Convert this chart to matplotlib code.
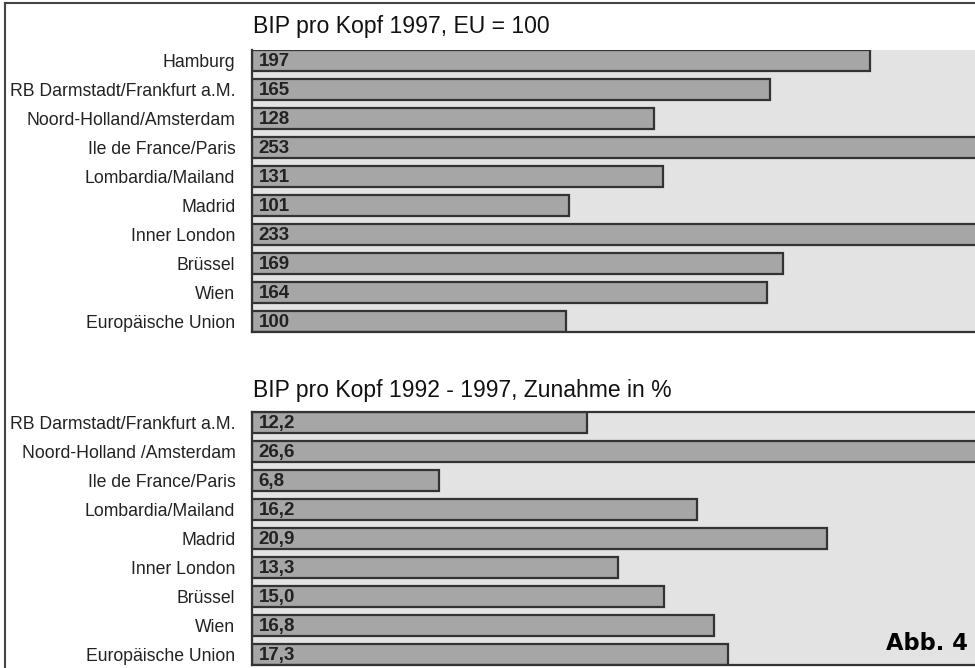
import matplotlib.pyplot as plt

plt.rcParams['font.family'] = ['Liberation Sans', 'DejaVu Sans']

# BIP pro Kopf 1997, EU = 100
regionen_1997 = ['Hamburg', 'RB Darmstadt/Frankfurt a.M.', 'Noord-Holland/Amsterdam',
                 'Ile de France/Paris', 'Lombardia/Mailand', 'Madrid', 'Inner London',
                 'Brüssel', 'Wien', 'Europäische Union']
bip_1997 = [197, 165, 128, 253, 131, 101, 233, 169, 164, 100]

# BIP pro Kopf 1992 - 1997, Zunahme in %
regionen_zunahme = ['RB Darmstadt/Frankfurt a.M.', 'Noord-Holland /Amsterdam',
                    'Ile de France/Paris', 'Lombardia/Mailand', 'Madrid', 'Inner London',
                    'Brüssel', 'Wien', 'Europäische Union']
zunahme = [12.2, 26.6, 6.8, 16.2, 20.9, 13.3, 15.0, 16.8, 17.3]

W, H = 975, 668
fig = plt.figure(figsize=(W / 100, H / 100), dpi=100)

BAR_H = 0.72
HINTERGRUND = '#e3e3e3'
BALKEN = '#a6a6a6'
RAND = '#333333'


def balken_panel(rect, namen, werte, xmax, fmt, top_spine):
    ax = fig.add_axes(rect)
    ax.set_facecolor(HINTERGRUND)
    y = list(range(len(werte)))
    ax.barh(y, werte, height=BAR_H, color=BALKEN, edgecolor=RAND, linewidth=1.6)
    for yi, v in zip(y, werte):
        ax.text(xmax * 0.009, yi + 0.03, fmt(v), va='center', ha='left',
                fontsize=13.5, fontweight='bold', color='#222222')
    ax.set_xlim(0, xmax)
    ax.set_ylim(len(werte) - 1 + BAR_H / 2, -BAR_H / 2)
    ax.set_yticks(y)
    ax.set_yticklabels(namen, fontsize=12.7, color='#222222')
    ax.tick_params(axis='y', length=0, pad=12)
    ax.set_xticks([])
    for s in ['left', 'bottom']:
        ax.spines[s].set_color(RAND)
        ax.spines[s].set_linewidth(1.6)
    ax.spines['right'].set_visible(False)
    ax.spines['top'].set_visible(top_spine)
    ax.spines['top'].set_color(RAND)
    ax.spines['top'].set_linewidth(1.6)
    return ax


balken_panel([252 / W, 1 - 332 / H, 723 / W, 282 / H], regionen_1997, bip_1997,
             230.3, lambda v: f'{v:d}', False)
balken_panel([252 / W, 1 - 665 / H, 723 / W, 253 / H], regionen_zunahme, zunahme,
             26.3, lambda v: f'{v:.1f}'.replace('.', ','), True)

fig.text(253 / W, 1 - 33 / H, 'BIP pro Kopf 1997, EU = 100', fontsize=16.6,
         color='#111111', ha='left', va='baseline')
fig.text(253 / W, 1 - 397 / H, 'BIP pro Kopf 1992 - 1997, Zunahme in %', fontsize=16.5,
         color='#111111', ha='left', va='baseline')
fig.text(968 / W, 1 - 650 / H, 'Abb. 4', fontsize=16.3, fontweight='bold',
         family='DejaVu Sans', color='black', ha='right', va='baseline')

# Rahmen oben und links
fig.add_artist(plt.Line2D([5 / W, 1], [1 - 3 / H, 1 - 3 / H], color='#444444', lw=1.5))
fig.add_artist(plt.Line2D([5 / W, 5 / W], [1 - 3 / H, 0], color='#444444', lw=1.5))

fig.savefig('out.png', dpi=100)
